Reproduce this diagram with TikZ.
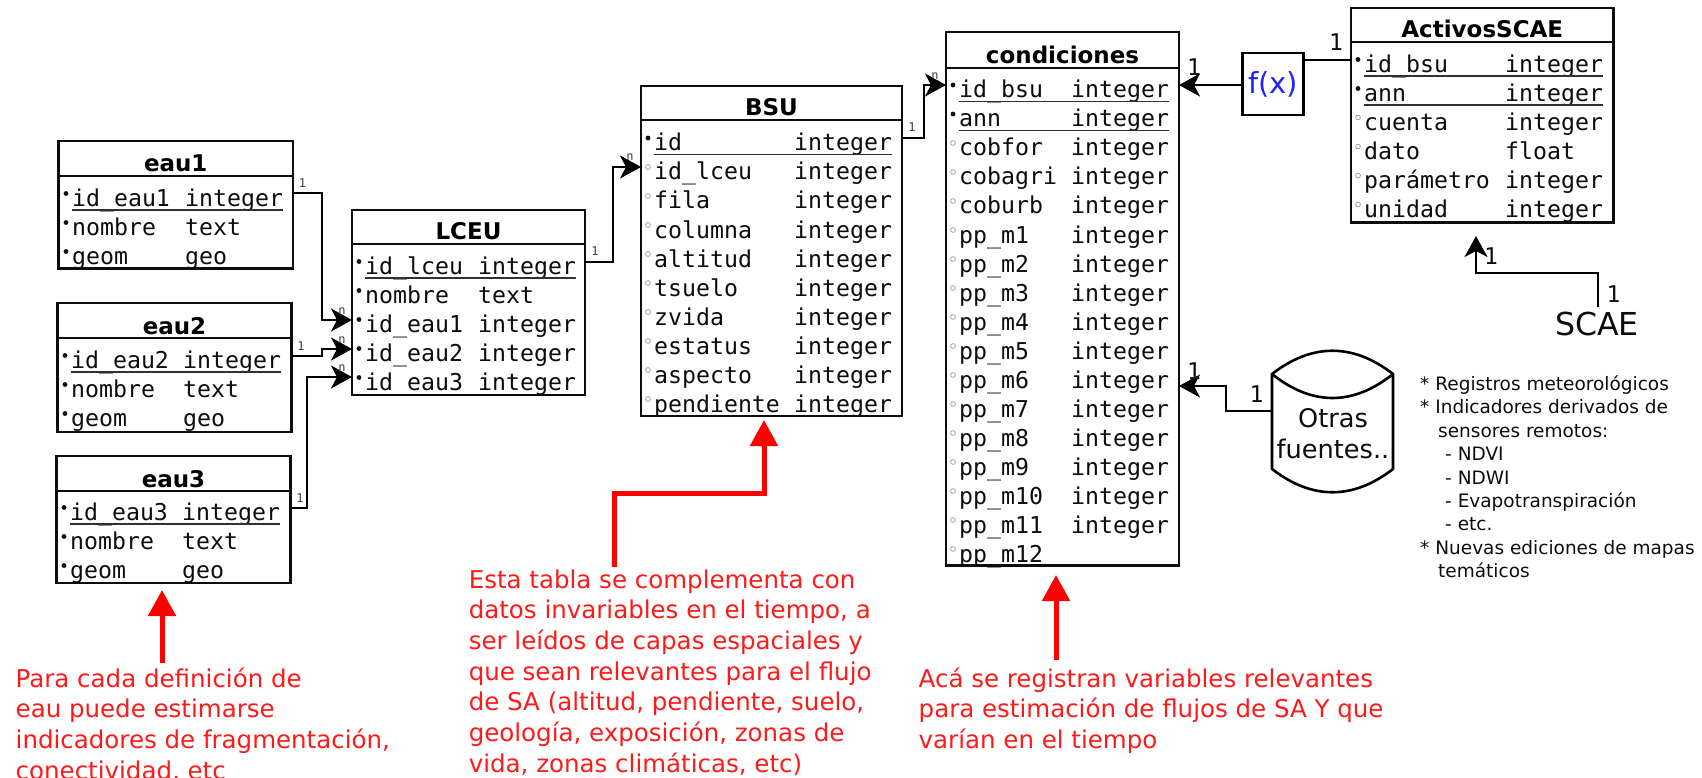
\documentclass[tikz,border=0pt]{standalone}
\usepackage{fontspec}
\setmainfont{DejaVu Sans}
\newfontfamily\monof{DejaVu Sans Mono}
\usetikzlibrary{arrows.meta}
\definecolor{ink}{HTML}{0D0D0D}
\definecolor{rednote}{HTML}{FF1A1A}
\definecolor{fxblue}{HTML}{2222FF}
\tikzset{
  x=1pt,y=-1pt,
  tablebox/.style={draw=ink,line width=2.8pt,inner sep=0pt,outer sep=0pt,anchor=north west,fill=white},
  headline/.style={draw=ink,line width=2.8pt},
  title/.style={font=\fontsize{23}{23}\selectfont\bfseries,text=black,anchor=base,inner sep=0pt},
  rowtxt/.style={font=\monof\fontsize{23.2}{23.2}\selectfont,text=ink,anchor=base west,inner sep=0pt},
  keyopen/.style={draw=gray!80,line width=0.7pt},
  keyfill/.style={fill=ink},
  keyline/.style={draw=ink!85,line width=1.8pt},
  conn/.style={draw=black,line width=2.6pt,-{Stealth[length=21pt,width=23pt,inset=6pt]}},
  plainconn/.style={draw=black,line width=2.6pt},
  lbls/.style={font=\monof\fontsize{12}{12}\selectfont,text=ink!80,inner sep=0pt},
  lblb/.style={font=\monof\fontsize{23}{23}\selectfont,text=ink,inner sep=0pt},
  redarrow/.style={draw=red,line width=5pt,-{Triangle[length=26pt,width=27pt]}},
  rednote/.style={font=\fontsize{24.5}{30.7}\selectfont,text=rednote,align=left,anchor=north west,inner sep=0pt},
  notes/.style={font=\fontsize{18.5}{23.4}\selectfont,text=ink,align=left,anchor=north west,inner sep=0pt},
}
\newcommand\dbtable[7]{% name, x1, y1, x2, yh, y2, title
  \node[tablebox,minimum width={#4-#2},minimum height={#6-#3}] (#1) at (#2,#3) {};
  \draw[headline] (#1.west |- 0,#5) -- (#1.east |- 0,#5);
  \node[title] (#1title) at ({(#2+#4)/2},{#5-4}) {#7};
}
\newcommand\dbrows[5]{% name, xn, xt, y0, rows
  \foreach \nm/\ty/\kd [count=\i] in {#5}{
    \pgfmathsetmacro\yy{#4+(\i-1)*29}
    \node[rowtxt] (#1n\i) at (#2,\yy) {\nm};
    \node[rowtxt] (#1t\i) at (#3,\yy) {\ty};
    \ifnum\kd=0
      \draw[keyopen] ({#2-6},{\yy-13}) circle (2.4pt);
    \else
      \fill[keyfill] ({#2-6},{\yy-13}) circle (2.4pt);
    \fi
    \ifnum\kd=2
      \draw[keyline] (#2,{\yy+3.5}) -- ({#3+98},{\yy+3.5});
    \fi
  }
}
\begin{document}
\begin{tikzpicture}
\useasboundingbox (0,0) rectangle (1702,778);
\clip (0,0) rectangle (1702,778);

% tables
\dbtable{eauA}{58.5}{141}{293}{176}{268.5}{eau1}
\dbrows{eauA}{72}{185}{206.5}{id\_eau1/integer/2,nombre/text/1,geom/geo/1}
\dbtable{eauB}{57.5}{303}{291.5}{338}{432}{eau2}
\dbrows{eauB}{71}{183}{368.5}{id\_eau2/integer/2,nombre/text/1,geom/geo/1}
\dbtable{eauC}{56.5}{456}{290.5}{491}{583}{eau3}
\dbrows{eauC}{70}{182}{520.5}{id\_eau3/integer/2,nombre/text/1,geom/geo/1}
\dbtable{lceu}{352}{210}{585}{244}{395}{LCEU}
\dbrows{lceu}{365}{478}{274.5}{id\_lceu/integer/2,nombre/text/1,id\_eau1/integer/1,id\_eau2/integer/1,id\_eau3/integer/1}
\dbtable{bsu}{641}{86}{902}{120}{416}{BSU}
\dbrows{bsu}{654}{794}{151}{id/integer/2,id\_lceu/integer/0,fila/integer/0,columna/integer/0,altitud/integer/0,tsuelo/integer/0,zvida/integer/0,estatus/integer/0,aspecto/integer/0,pendiente/integer/0}
\dbtable{cond}{946}{32}{1179}{68}{565.5}{condiciones}
\dbrows{cond}{959}{1071}{98}{id\_bsu/integer/2,ann/integer/2,cobfor/integer/0,cobagri/integer/0,coburb/integer/0,pp\_m1/integer/0,pp\_m2/integer/0,pp\_m3/integer/0,pp\_m4/integer/0,pp\_m5/integer/0,pp\_m6/integer/0,pp\_m7/integer/0,pp\_m8/integer/0,pp\_m9/integer/0,pp\_m10/integer/0,pp\_m11/integer/0,pp\_m12//0}
\dbtable{act}{1351}{8}{1613.5}{42}{222.5}{ActivosSCAE}
\dbrows{act}{1364}{1505}{72.5}{id\_bsu/integer/2,ann/integer/2,cuenta/integer/0,dato/float/0,parámetro/integer/0,unidad/integer/0}

% f(x)
\node[draw=black,line width=2.8pt,minimum width=61pt,minimum height=62pt,inner sep=0pt,font=\fontsize{29}{29}\selectfont,text=fxblue] (fx) at (1273,84) {f(x)};

% SCAE
\node[font=\fontsize{31.6}{31.6}\selectfont,text=ink,inner sep=0pt] (scae) at (1597,324) {SCAE};

% cylinder
\node[minimum width=121pt,minimum height=141pt,inner sep=0pt] (cyl) at (1332.5,421.5) {};
\draw[black,line width=2.6pt] (1272,374) .. controls (1312,343) and (1353,343) .. (1393,374)
  -- (1393,469) .. controls (1353,500) and (1312,500) .. (1272,469) -- cycle;
\draw[black,line width=2.6pt] (1272,374) .. controls (1312,406) and (1353,406) .. (1393,374);
\node[font=\fontsize{25.6}{31}\selectfont,text=ink,align=center,inner sep=0pt] (otras) at (1333,434) {Otras\\fuentes..};

% connectors
\draw[conn] (eauA.east |- 0,193) -- (322,193) -- (322,320) -- (lceu.west |- 0,320);
\draw[conn] (eauB.east |- 0,356) -- (322,356) -- (322,349) -- (lceu.west |- 0,349);
\draw[conn] (eauC.east |- 0,508) -- (307,508) -- (307,377) -- (lceu.west |- 0,377);
\draw[conn] (lceu.east |- 0,262) -- (613,262) -- (613,167) -- (bsu.west |- 0,167);
\draw[conn] (bsu.east |- 0,138) -- (924,138) -- (924,85) -- (cond.west |- 0,85);
\draw[conn] (fx.west |- 0,85) -- (cond.east |- 0,85);
\draw[plainconn] (fx.east |- 0,60) -- (act.west |- 0,60);
\draw[conn] (cyl.west |- 0,411) -- (1226,411) -- (1226,386) -- (cond.east |- 0,386);
\coordinate (scaetop) at (1598,307);
\draw[conn] (scaetop) -- (1598,273) -- (1476,273) -- (1476,236);

% small labels
\node[lbls] (la) at (302.5,183) {1};
\node[lbls] (lb) at (301,346) {1};
\node[lbls] (lc) at (300,498) {1};
\node[lbls] (ld) at (595,251) {1};
\node[lbls] (le) at (912,127) {1};
\node[lbls] (lf) at (342,311) {n};
\node[lbls] (lg) at (342,340) {n};
\node[lbls] (lh) at (342,368) {n};
\node[lbls] (li) at (630,157) {n};
\node[lbls] (lj) at (935,76) {n};

% large labels
\node[lblb] (lk) at (1194,67) {1};
\node[lblb] (ll) at (1336,42) {1};
\node[lblb] (lm) at (1613.6,294) {1};
\node[lblb] (ln) at (1491,256) {1};
\node[lblb] (lo) at (1256.6,394) {1};
\node[lblb] (lp) at (1194,371) {1};

% notes
\node[notes] (notes) at (1420,375.5) {* Registros meteorológicos\\* Indicadores derivados de\\\hspace*{18pt}sensores remotos:\\\hspace*{25pt}- NDVI\\\hspace*{25pt}- NDWI\\\hspace*{25pt}- Evapotranspiración\\\hspace*{25pt}- etc.\\* Nuevas ediciones de mapas\\\hspace*{18pt}temáticos};

% red notes
\node[rednote] (ra) at (15.5,667.3) {Para cada definición de\\eau puede estimarse\\indicadores de fragmentación,\\conectividad, etc};
\node[rednote] (rb) at (468.6,569.3) {Esta tabla se complementa con\\datos invariables en el tiempo, a\\ser leídos de capas espaciales y\\que sean relevantes para el flujo\\de SA (altitud, pendiente, suelo,\\geología, exposición, zonas de\\vida, zonas climáticas, etc)};
\node[rednote] (rc) at (918.5,667.3) {Acá se registran variables relevantes\\para estimación de flujos de SA Y que\\varían en el tiempo};

% red arrows
\coordinate (rastart) at (162,663);
\coordinate (rbstart) at (614,567);
\coordinate (rcstart) at (1056,660);
\draw[redarrow] (rastart) -- (162,590);
\draw[redarrow] (rbstart) -- (614,493) -- (764,493) -- (764,420);
\draw[redarrow] (rcstart) -- (1056,575);
\end{tikzpicture}
\end{document}
